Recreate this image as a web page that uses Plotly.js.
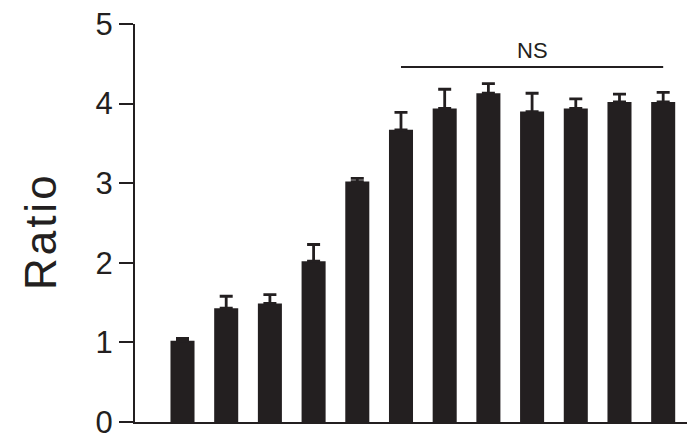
<!DOCTYPE html>
<html>
<head>
<meta charset="utf-8">
<script src="https://cdn.plot.ly/plotly-3.0.1.min.js"></script>
<style>html,body{margin:0;padding:0;background:#fff;}#chart{width:687px;height:441px;}</style>
</head>
<body>
<div id="chart"></div>
<script>
// Data
var categories = ["1","2","3","4","5","6","7","8","9","10","11","12"];
var ratioValues = [1.02, 1.43, 1.49, 2.02, 3.02, 3.67, 3.94, 4.13, 3.90, 3.94, 4.02, 4.02];
var ratioErrors = [0.03, 0.15, 0.11, 0.21, 0.04, 0.22, 0.24, 0.12, 0.23, 0.12, 0.10, 0.12];
var yTickValues = [0, 1, 2, 3, 4, 5];
var yTickLabels = ["0", "1", "2", "3", "4", "5"];
var nsGroupStart = 5;   // index of first bar under NS line
var nsGroupEnd = 11;    // index of last bar under NS line
var nsLevel = 4.46;
var nsLabel = "NS";
var yLabel = "Ratio";

var ink = "#231f20";
var xIdx = categories.map(function(_, i){ return i; });
var zeros = ratioErrors.map(function(){ return 0; });

var trace = {
  type: "bar",
  x: xIdx,
  y: ratioValues,
  width: 0.55,
  marker: {color: ink, line: {width: 0}},
  error_y: {
    type: "data",
    symmetric: false,
    array: ratioErrors,
    arrayminus: zeros,
    color: ink,
    thickness: 2.8,
    width: 6.5
  },
  hoverinfo: "none"
};

var layout = {
  width: 687,
  height: 441,
  margin: {l: 135, r: 0, t: 24, b: 19, pad: 0},
  paper_bgcolor: "#ffffff",
  plot_bgcolor: "#ffffff",
  showlegend: false,
  font: {family: "Liberation Sans, Arial, sans-serif", color: ink},
  xaxis: {
    range: [-1.087, 11.545],
    showgrid: false,
    zeroline: false,
    showline: true,
    linecolor: ink,
    linewidth: 2,
    ticks: "",
    showticklabels: false,
    fixedrange: true
  },
  yaxis: {
    range: [0, 5],
    tickvals: yTickValues,
    ticktext: yTickLabels,
    showgrid: false,
    zeroline: false,
    showline: true,
    linecolor: ink,
    linewidth: 2,
    ticks: "outside",
    ticklen: 14,
    tickwidth: 2,
    tickcolor: ink,
    ticklabeloverflow: "allow",
    tickfont: {size: 31, color: ink, family: "Liberation Sans, Arial, sans-serif"},
    fixedrange: true
  },
  shapes: [{
    type: "line",
    xref: "x", yref: "y",
    x0: nsGroupStart, x1: nsGroupEnd,
    y0: nsLevel, y1: nsLevel,
    line: {color: ink, width: 2}
  }],
  annotations: [
    {
      xref: "x", yref: "y",
      x: (nsGroupStart + nsGroupEnd) / 2, y: nsLevel,
      text: nsLabel, showarrow: false,
      yanchor: "bottom", yshift: 2,
      font: {size: 22, color: ink}
    },
    {
      xref: "paper", yref: "paper",
      x: -0.170, y: 0.48,
      xanchor: "center", yanchor: "middle",
      text: '<span style="letter-spacing:3px">' + yLabel + '</span>', showarrow: false, textangle: -90,
      font: {size: 44, color: ink}
    }
  ]
};

Plotly.newPlot("chart", [trace], layout, {displayModeBar: false, staticPlot: true});
</script>
</body>
</html>
